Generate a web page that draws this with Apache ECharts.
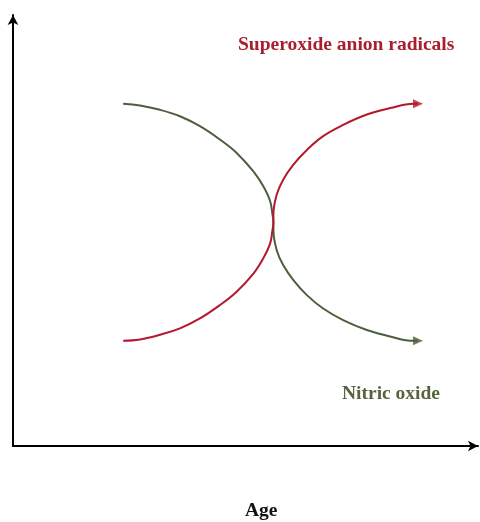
<!DOCTYPE html>
<html>
<head>
<meta charset="utf-8">
<script src="https://cdn.jsdelivr.net/npm/echarts@6/dist/echarts.min.js"></script>
<style>
  html, body { margin: 0; padding: 0; background: #fff; }
  #main { width: 480px; height: 522px; }
</style>
</head>
<body>
<div id="main"></div>
<script>
// points, [age, level] on a 0-100 scale
var nitricOxide = [
  [23.7, 79.4], [27.3, 79.0], [31.6, 78.0], [35.9, 76.5], [40.2, 74.2],
  [44.5, 71.1], [48.1, 68.0], [51.7, 63.7], [53.8, 60.3], [55.3, 56.8],
  [55.8, 53.7], [56.0, 51.9], [56.0, 50.1], [56.7, 45.5], [58.1, 42.0],
  [60.3, 38.5], [63.2, 35.0], [66.7, 31.9], [71.0, 29.2], [76.1, 26.9],
  [81.1, 25.4], [86.1, 24.4], [87.1, 24.4]
];
var superoxide = [
  [23.7, 24.4], [27.3, 24.7], [31.6, 25.8], [35.9, 27.3], [40.2, 29.6],
  [44.5, 32.7], [48.1, 35.8], [51.7, 40.0], [53.8, 43.5], [55.3, 47.0],
  [55.8, 50.1], [56.0, 51.9], [56.0, 53.7], [56.7, 58.3], [58.1, 61.8],
  [60.3, 65.3], [63.2, 68.7], [66.7, 71.9], [71.0, 74.5], [76.1, 76.9],
  [81.1, 78.4], [86.1, 79.4], [87.1, 79.4]
];
var labels = ['Superoxide anion radicals', 'Nitric oxide', 'Age'];

var red = '#b3192c';
var green = '#4d5e3c';

var dom = document.getElementById('main');
var myChart = echarts.init(dom);

function lastPoint(arr) {
  return [arr[arr.length - 1]];
}

var option = {
  animation: false,
  grid: { left: 13, right: 2, top: 15, bottom: 76 },
  xAxis: {
    type: 'value',
    min: 0,
    max: 100,
    axisLine: {
      onZero: false,
      symbol: ['none', 'arrow'],
      symbolSize: [8, 10],
      lineStyle: { color: '#000', width: 2 }
    },
    axisTick: { show: false },
    axisLabel: { show: false },
    splitLine: { show: false }
  },
  yAxis: {
    type: 'value',
    min: 0,
    max: 100,
    axisLine: {
      show: true,
      onZero: false,
      symbol: ['none', 'arrow'],
      symbolSize: [8, 10],
      lineStyle: { color: '#000', width: 2 }
    },
    axisTick: { show: false },
    axisLabel: { show: false },
    splitLine: { show: false }
  },
  series: [
    {
      type: 'line',
      data: nitricOxide,
      smooth: 0.4,
      showSymbol: false,
      lineStyle: { color: green, width: 2 }
    },
    {
      type: 'line',
      data: superoxide,
      smooth: 0.4,
      showSymbol: false,
      lineStyle: { color: red, width: 2 }
    },
    {
      // arrow heads
      type: 'scatter',
      data: lastPoint(nitricOxide),
      symbol: 'triangle',
      symbolSize: [9, 10],
      symbolRotate: -90,
      itemStyle: { color: green }
    },
    {
      type: 'scatter',
      data: lastPoint(superoxide),
      symbol: 'triangle',
      symbolSize: [9, 10],
      symbolRotate: -90,
      itemStyle: { color: red }
    }
  ],
  graphic: [
    {
      type: 'text', left: 238, top: 35,
      style: {
        text: labels[0], fill: '#a8202f',
        font: 'bold 19.5px "Liberation Serif", serif'
      }
    },
    {
      type: 'text', left: 342, top: 384,
      style: {
        text: labels[1], fill: '#55663f',
        font: 'bold 19.5px "Liberation Serif", serif'
      }
    },
    {
      type: 'text', left: 245, top: 501,
      style: {
        text: labels[2], fill: '#111',
        font: 'bold 19.5px "Liberation Serif", serif'
      }
    }
  ]
};

if (option && typeof option === 'object') {
  myChart.setOption(option, true);
}
</script>
</body>
</html>
